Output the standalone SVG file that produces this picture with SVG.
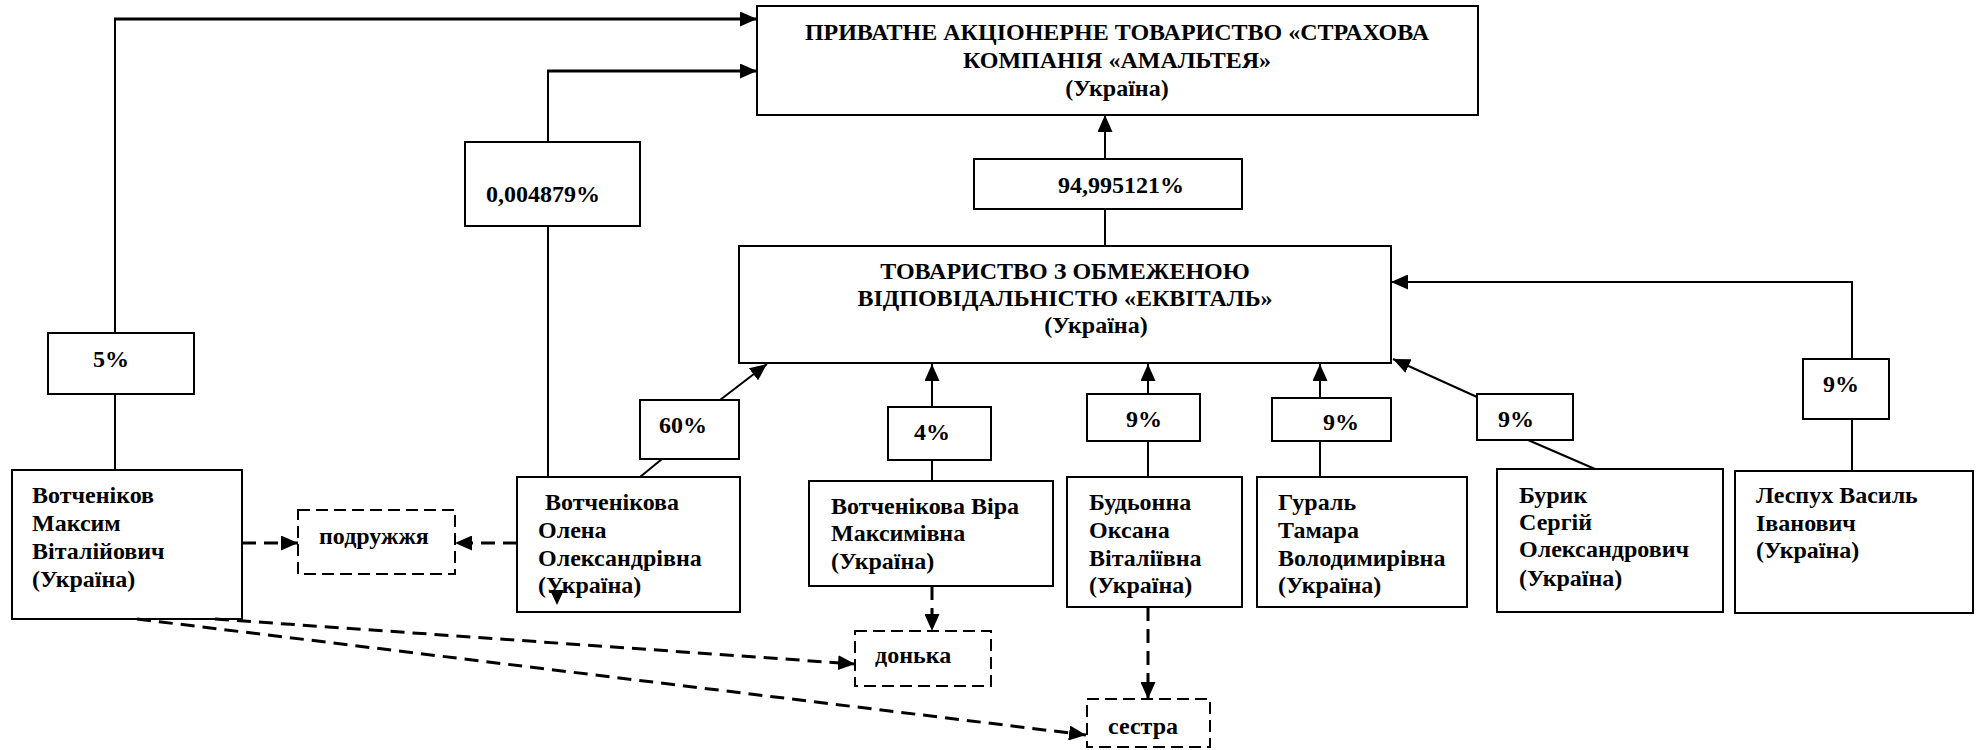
<svg xmlns="http://www.w3.org/2000/svg" width="1979" height="750" viewBox="0 0 1979 750">
<style>
.box{fill:#fff;stroke:#000;stroke-width:2}
.dbox{fill:#fff;stroke:#000;stroke-width:2;stroke-dasharray:12 6}
.t{font-family:"Liberation Serif","Times New Roman",serif;font-weight:bold;font-size:24px;fill:#000}
.c{text-anchor:middle}
.ln{fill:none;stroke:#000;stroke-width:2}
.lt{fill:none;stroke:#000;stroke-width:3}
.dl{fill:none;stroke:#000;stroke-width:3;stroke-dasharray:14 8}
</style>
<defs>
<marker id="ah" markerUnits="userSpaceOnUse" markerWidth="17" markerHeight="15" refX="17" refY="7.5" orient="auto">
<path d="M0,0 L17,7.5 L0,15 z" fill="#000"/>
</marker>
</defs>
<rect width="1979" height="750" fill="#fff"/>

<g id="nodes">
<g id="amalteya">
<rect class="box" x="757" y="6" width="721" height="109"/>
<text class="t c" x="1117" y="40">ПРИВАТНЕ АКЦІОНЕРНЕ ТОВАРИСТВО «СТРАХОВА</text>
<text class="t c" x="1117" y="68">КОМПАНІЯ «АМАЛЬТЕЯ»</text>
<text class="t c" x="1117" y="96">(Україна)</text>
</g>
<g id="ekvital">
<rect class="box" x="739" y="246" width="652" height="117"/>
<text class="t c" x="1065" y="279">ТОВАРИСТВО З ОБМЕЖЕНОЮ</text>
<text class="t c" x="1065" y="306">ВІДПОВІДАЛЬНІСТЮ «ЕКВІТАЛЬ»</text>
<text class="t c" x="1096" y="333">(Україна)</text>
</g>
<g id="p94">
<rect class="box" x="974" y="159" width="268" height="50"/>
<text class="t" x="1058" y="193">94,995121%</text>
</g>
<g id="p0004">
<rect class="box" x="465" y="142" width="175" height="84"/>
<text class="t" x="486" y="202">0,004879%</text>
</g>
<g id="p5">
<rect class="box" x="48" y="333" width="146" height="61"/>
<text class="t" x="93" y="367">5%</text>
</g>
<g id="p60">
<rect class="box" x="640" y="400" width="99" height="59"/>
<text class="t" x="659" y="433">60%</text>
</g>
<g id="p4">
<rect class="box" x="888" y="407" width="103" height="53"/>
<text class="t" x="914" y="440">4%</text>
</g>
<g id="p9a">
<rect class="box" x="1087" y="394" width="113" height="47"/>
<text class="t" x="1126" y="427">9%</text>
</g>
<g id="p9b">
<rect class="box" x="1272" y="398" width="119" height="43"/>
<text class="t" x="1323" y="430">9%</text>
</g>
<g id="p9c">
<rect class="box" x="1477" y="394" width="96" height="46"/>
<text class="t" x="1498" y="427">9%</text>
</g>
<g id="p9d">
<rect class="box" x="1803" y="359" width="86" height="60"/>
<text class="t" x="1823" y="392">9%</text>
</g>
<g id="votchenikov">
<rect class="box" x="12" y="470" width="230" height="149"/>
<text class="t" x="32" y="503">Вотченіков</text>
<text class="t" x="32" y="531">Максим</text>
<text class="t" x="32" y="559">Віталійович</text>
<text class="t" x="32" y="587">(Україна)</text>
</g>
<g id="podruzhzhia">
<rect class="dbox" x="298" y="510" width="157" height="64"/>
<text class="t" x="319" y="544">подружжя</text>
</g>
<g id="votchenikova_olena">
<rect class="box" x="517" y="477" width="223" height="135"/>
<text class="t" x="545" y="510">Вотченікова</text>
<text class="t" x="538" y="538">Олена</text>
<text class="t" x="538" y="566">Олександрівна</text>
<text class="t" x="538" y="593">(Україна)</text>
</g>
<g id="votchenikova_vira">
<rect class="box" x="809" y="481" width="244" height="105"/>
<text class="t" x="831" y="514">Вотченікова Віра</text>
<text class="t" x="831" y="541">Максимівна</text>
<text class="t" x="831" y="569">(Україна)</text>
</g>
<g id="donka">
<rect class="dbox" x="855" y="631" width="136" height="55"/>
<text class="t" x="875" y="663">донька</text>
</g>
<g id="budonna">
<rect class="box" x="1067" y="477" width="175" height="130"/>
<text class="t" x="1089" y="510">Будьонна</text>
<text class="t" x="1089" y="538">Оксана</text>
<text class="t" x="1089" y="566">Віталіївна</text>
<text class="t" x="1089" y="593">(Україна)</text>
</g>
<g id="sestra">
<rect class="dbox" x="1087" y="699" width="123" height="48"/>
<text class="t" x="1108" y="734">сестра</text>
</g>
<g id="gural">
<rect class="box" x="1257" y="477" width="210" height="130"/>
<text class="t" x="1278" y="510">Гураль</text>
<text class="t" x="1278" y="538">Тамара</text>
<text class="t" x="1278" y="566">Володимирівна</text>
<text class="t" x="1278" y="593">(Україна)</text>
</g>
<g id="buryk">
<rect class="box" x="1497" y="469" width="226" height="143"/>
<text class="t" x="1519" y="503">Бурик</text>
<text class="t" x="1519" y="530">Сергій</text>
<text class="t" x="1519" y="557">Олександрович</text>
<text class="t" x="1519" y="586">(Україна)</text>
</g>
<g id="lespukh">
<rect class="box" x="1735" y="471" width="238" height="142"/>
<text class="t" x="1756" y="503">Леспух Василь</text>
<text class="t" x="1756" y="531">Іванович</text>
<text class="t" x="1756" y="558">(Україна)</text>
</g>
</g>

<g id="connectors">
<path class="ln" d="M115,470 V394"/>
<path class="ln" d="M115,333 V19"/>
<path class="lt" d="M114,19 H757" marker-end="url(#ah)"/>
<path class="ln" d="M548,477 V226"/>
<path class="ln" d="M548,142 V71"/>
<path class="lt" d="M547,71 H757" marker-end="url(#ah)"/>
<path class="ln" d="M1105,246 V209"/>
<path class="ln" d="M1105,159 V115" marker-end="url(#ah)"/>
<path class="ln" d="M640,477 L662,459"/>
<path class="ln" d="M720,400 L767,364" marker-end="url(#ah)"/>
<path class="ln" d="M932,481 V460"/>
<path class="ln" d="M932,407 V364" marker-end="url(#ah)"/>
<path class="ln" d="M1148,477 V441"/>
<path class="ln" d="M1148,394 V364" marker-end="url(#ah)"/>
<path class="ln" d="M1320,477 V441"/>
<path class="ln" d="M1320,398 V364" marker-end="url(#ah)"/>
<path class="ln" d="M1595,469 L1528,440"/>
<path class="ln" d="M1477,397 L1393,359" marker-end="url(#ah)"/>
<path class="ln" d="M1852,471 V419"/>
<path class="ln" d="M1852,359 V282"/>
<path class="ln" d="M1853,282 H1391" marker-end="url(#ah)"/>
<path class="dl" d="M242,543 H298" marker-end="url(#ah)"/>
<path class="dl" d="M517,543 H455" marker-end="url(#ah)"/>
<path class="dl" d="M932,586 V631" marker-end="url(#ah)"/>
<path class="dl" d="M215,619 L855,664" marker-end="url(#ah)"/>
<path class="dl" d="M137,619 L1086,735" marker-end="url(#ah)"/>
<path class="dl" d="M1148,607 V699" marker-end="url(#ah)"/>
<path d="M550,590 L564,590 L557,605 z" fill="#000"/>
</g>
</svg>
